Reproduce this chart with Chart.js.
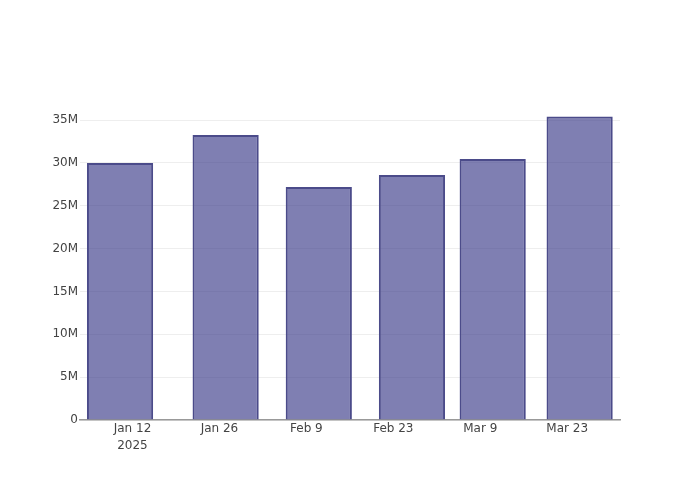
<!DOCTYPE html>
<html>
<head>
<meta charset="utf-8">
<script src="https://cdn.jsdelivr.net/npm/chart.js@4"></script>
<style>
  html, body { margin: 0; padding: 0; background: #fff; }
  #wrap { width: 700px; height: 500px; }
</style>
</head>
<body>
<div id="wrap"><canvas id="barChart" width="700" height="500"></canvas></div>
<script>
// day of year 2025 for each bar
const barDays = [10, 27, 42, 57, 70, 84]; // Jan 10, Jan 27, Feb 11, Feb 26, Mar 11, Mar 25
const values = [30.0e6, 33.25e6, 27.2e6, 28.6e6, 30.45e6, 35.4e6];

const xTickDays = [12, 26, 40, 54, 68, 82];
const xTickLabels = [["Jan 12", "2025"], "Jan 26", "Feb 9", "Feb 23", "Mar 9", "Mar 23"];
const yTickValues = [0, 5e6, 10e6, 15e6, 20e6, 25e6, 30e6, 35e6];
const yTickLabels = ["0", "5M", "10M", "15M", "20M", "25M", "30M", "35M"];

Chart.defaults.font.family = "'DejaVu Sans', sans-serif";
Chart.defaults.font.size = 12;
Chart.defaults.color = "#444";

const ctx = document.getElementById("barChart").getContext("2d");

new Chart(ctx, {
    type: "bar",
    data: {
        datasets: [{
            data: barDays.map((d, i) => ({ x: d, y: values[i] })),
            backgroundColor: "rgba(55, 55, 135, 0.64)",
            borderColor: "#4b4b8a",
            borderWidth: 2,
            categoryPercentage: 1.0,
            barPercentage: 0.82,
        }],
    },
    options: {
        responsive: false,
        animation: false,
        layout: { padding: { top: 101, right: 80, left: 0, bottom: 0 } },
        plugins: {
            legend: { display: false },
            tooltip: { enabled: false },
        },
        scales: {
            x: {
                type: "linear",
                min: 3.55,
                max: 90.5,
                offset: false,
                afterBuildTicks: (s) => { s.ticks = xTickDays.map(v => ({ value: v })); },
                afterFit: (s) => { s.height = 80; },
                ticks: {
                    autoSkip: false,
                    maxRotation: 0,
                    padding: 1,
                    font: { lineHeight: 1.37 },
                    callback: (v, i) => xTickLabels[i],
                },
                grid: { display: false, drawTicks: false },
                border: { display: true, color: "#999", width: 1.5 },
            },
            y: {
                min: 0,
                max: 37.22e6,
                afterBuildTicks: (s) => { s.ticks = yTickValues.map(v => ({ value: v })); },
                afterFit: (s) => { s.width = 80; },
                ticks: {
                    padding: 2,
                    callback: (v, i) => yTickLabels[i],
                },
                grid: { color: "#eeeeee", drawTicks: false },
                border: { display: false },
            },
        },
    },
});
</script>
</body>
</html>
